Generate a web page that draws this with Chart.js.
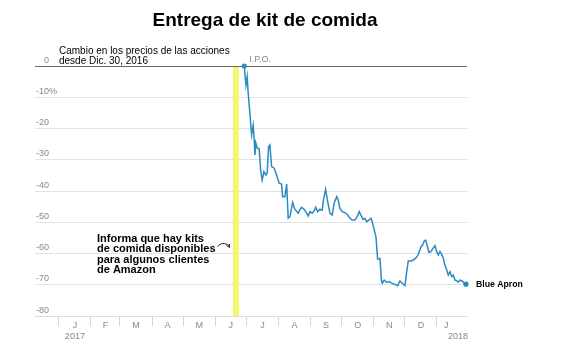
<!DOCTYPE html>
<html>
<head>
<meta charset="utf-8">
<script src="https://cdn.jsdelivr.net/npm/chart.js@4"></script>
<style>
  html, body { margin: 0; padding: 0; background: #fff; }
</style>
</head>
<body>
<canvas id="myChart" width="567" height="352"></canvas>
<script>
// days counted from Jan 1, 2017
const days = [
  179, 180.6, 181.8, 182.8, 184.4, 186.1, 187.6, 188.6, 189.3, 190.2, 191.5, 193.4,
  194.8, 196.3, 198.0, 199.9, 201.1, 202.5, 203.7, 205.4, 207.9, 210.2, 212.7, 215.0,
  216.0, 218.2, 219.9, 221.4, 223.1, 225.7, 227.9, 231.1, 232.7, 234.4, 236.9, 239.2,
  240.7, 242.4, 244.6, 246.5, 247.9, 249.8, 252.0, 254.3, 255.2, 257.5, 259.5, 261.7,
  263.9, 265.8, 268.2, 269.7, 271.3, 273.6, 276.2, 278.8, 281.0, 283.2, 285.8, 288.0,
  290.0, 291.6, 293.8, 295.5, 297.1, 299.3, 301.3, 302.5, 304.5, 306.1, 307.7, 310.0,
  311.4, 312.2, 314.1, 316.4, 318.7, 321.3, 324.5, 327.0, 329.3, 331.5, 334.1, 335.8,
  337.3, 339.9, 342.1, 344.4, 346.4, 347.9, 349.6, 351.2, 352.7, 354.1, 355.6, 357.3,
  359.2, 361.4, 363.1, 364.7, 366.3, 367.9, 369.5, 371.1, 372.7, 374.4, 375.9, 377.6,
  379.2, 380.7, 382.4, 384.0, 385.6, 387.2, 389.4, 391.4, 393.0
];
const pctChange = [
  0, -6.1, -3.4, -8.7, -15.0, -22.0, -19.0, -23.7, -28.5, -24.7, -26.3, -26.5,
  -33.3, -36.5, -33.8, -34.9, -34.3, -25.8, -25.3, -32.2, -32.7, -34.9, -37.5, -37.8,
  -41.8, -41.8, -37.8, -48.7, -48.2, -43.7, -45.9, -47.1, -46.0, -45.2, -45.9, -47.1,
  -48.0, -46.6, -47.1, -46.3, -45.2, -46.6, -45.9, -46.1, -43.4, -39.5, -43.4, -47.1,
  -47.7, -43.9, -41.8, -42.9, -45.5, -46.6, -46.9, -47.7, -48.7, -49.3, -49.3, -48.2,
  -46.6, -47.7, -49.1, -48.8, -49.8, -49.3, -48.7, -49.8, -52.5, -54.6, -61.8, -61.6,
  -68.5, -69.5, -68.5, -69.2, -69.0, -69.5, -69.9, -70.3, -68.8, -69.5, -70.3, -65.8,
  -62.4, -62.4, -62.1, -61.5, -60.7, -59.4, -57.8, -57.3, -56.0, -55.7, -57.5, -59.6,
  -59.4, -58.3, -57.5, -59.4, -60.5, -59.4, -60.2, -61.5, -63.7, -65.3, -66.9, -65.8,
  -67.4, -66.9, -68.5, -68.7, -69.2, -68.5, -68.8, -69.5, -69.8
];

const monthStarts = [0, 31, 59, 90, 120, 151, 181, 212, 243, 273, 304, 334, 365];
const monthMids = [15.5, 45, 74.5, 105, 135.5, 166, 196.5, 227.5, 258, 288.5, 319, 349.5, 374];
const monthLabels = ["J", "F", "M", "A", "M", "J", "J", "A", "S", "O", "N", "D", "J"];
const yTicks = [0, -10, -20, -30, -40, -50, -60, -70, -80];
const reportDays = [168, 173.8];

const FONT = "'Liberation Sans', Arial, Helvetica, sans-serif";
const BLUE = "#2b8ac2";

const extras = {
  id: "extras",
  beforeDatasetsDraw(chart) {
    const { ctx, scales: { x, y } } = chart;
    const x0 = x.getPixelForValue(reportDays[0]);
    const x1 = x.getPixelForValue(reportDays[1]);
    const top = y.getPixelForValue(0);
    const bot = y.getPixelForValue(-80);
    ctx.save();
    ctx.fillStyle = "#f4f76c";
    ctx.fillRect(x0, top + 1, x1 - x0, bot - top - 1);
    ctx.restore();
  },
  afterDraw(chart) {
    const { ctx, scales: { x, y } } = chart;
    ctx.save();

    // title
    ctx.fillStyle = "#000";
    ctx.font = "bold 19px " + FONT;
    ctx.textAlign = "center";
    ctx.textBaseline = "middle";
    ctx.fillText("Entrega de kit de comida", 265, 21);

    // y labels
    ctx.font = "9px " + FONT;
    ctx.fillStyle = "#888";
    ctx.textBaseline = "alphabetic";
    yTicks.forEach(v => {
      const py = y.getPixelForValue(v) - 3.5;
      ctx.textAlign = "right";
      ctx.fillText(v === 0 ? "0" : "-" + Math.abs(v), 49, py);
      if (v === -10) {
        ctx.textAlign = "left";
        ctx.fillText("%", 49, py);
      }
    });

    // years
    ctx.textAlign = "center";
    ctx.fillText("2017", x.getPixelForValue(monthMids[0]), 338.5);
    ctx.textAlign = "right";
    ctx.fillText("2018", chart.chartArea.right + 1, 338.5);

    // I.P.O.
    ctx.textAlign = "left";
    ctx.fillText("I.P.O.", x.getPixelForValue(days[0]) + 5, 62);

    // axis note
    ctx.fillStyle = "#000";
    ctx.font = "10px " + FONT;
    ctx.fillText("Cambio en los precios de las acciones", 59, 54);
    ctx.fillText("desde Dic. 30, 2016", 59, 63.5);

    // annotation
    ctx.font = "bold 11px " + FONT;
    ctx.textBaseline = "middle";
    ["Informa que hay kits", "de comida disponibles", "para algunos clientes", "de Amazon"]
      .forEach((t, i) => ctx.fillText(t, 97, 238.5 + i * 10.6));

    // small curved arrow
    ctx.strokeStyle = "#222";
    ctx.lineWidth = 1;
    ctx.beginPath();
    ctx.moveTo(217.5, 246.5);
    ctx.quadraticCurveTo(222, 241, 229, 245.5);
    ctx.stroke();
    ctx.beginPath();
    ctx.moveTo(226.5, 245.5);
    ctx.lineTo(229.5, 247.5);
    ctx.lineTo(229.5, 244);
    ctx.stroke();

    // end label
    const last = days.length - 1;
    ctx.fillStyle = "#000";
    ctx.font = "bold 8.7px " + FONT;
    ctx.textAlign = "left";
    ctx.fillText("Blue Apron", x.getPixelForValue(days[last]) + 10, y.getPixelForValue(pctChange[last]));

    ctx.restore();
  }
};

const tickList = monthStarts.map(v => ({ value: v, boundary: true }))
  .concat(monthMids.map((v, i) => ({ value: v, boundary: false, lbl: monthLabels[i] })))
  .sort((a, b) => a.value - b.value);

new Chart(document.getElementById("myChart"), {
  type: "line",
  data: {
    datasets: [{
      label: "Blue Apron",
      data: days.map((d, i) => ({ x: d, y: pctChange[i] })),
      borderColor: BLUE,
      backgroundColor: BLUE,
      borderWidth: 1.5,
      pointRadius: c => (c.dataIndex === 0 || c.dataIndex === days.length - 1) ? 2.6 : 0,
      pointHoverRadius: 0,
      pointBorderWidth: 0,
      tension: 0,
      clip: false
    }]
  },
  options: {
    responsive: false,
    animation: false,
    events: [],
    layout: { padding: { top: 66, left: 0, right: 100, bottom: 0 } },
    plugins: { legend: { display: false }, title: { display: false }, tooltip: { enabled: false } },
    scales: {
      x: {
        type: "linear",
        min: -23,
        max: 394,
        afterBuildTicks: s => { s.ticks = tickList.map(t => Object.assign({}, t)); },
        afterFit: s => { s.height = 36; },
        grid: {
          drawOnChartArea: false,
          tickLength: 10,
          tickColor: c => (c.tick && c.tick.boundary) ? "#d4d4d4" : "rgba(0,0,0,0)"
        },
        border: { color: "#ddd" },
        ticks: {
          autoSkip: false,
          maxRotation: 0,
          padding: -6,
          color: "#888",
          font: { family: FONT, size: 9 },
          callback: (v, i, ts) => ts[i].lbl || ""
        }
      },
      y: {
        min: -80,
        max: 0,
        afterBuildTicks: s => { s.ticks = yTicks.map(v => ({ value: v })); },
        afterFit: s => { s.width = 35; },
        grid: {
          drawTicks: false,
          color: c => (c.tick && c.tick.value === 0) ? "#666" : "#e2e2e2"
        },
        border: { display: false },
        ticks: { display: false }
      }
    }
  },
  plugins: [extras]
});
</script>
</body>
</html>
